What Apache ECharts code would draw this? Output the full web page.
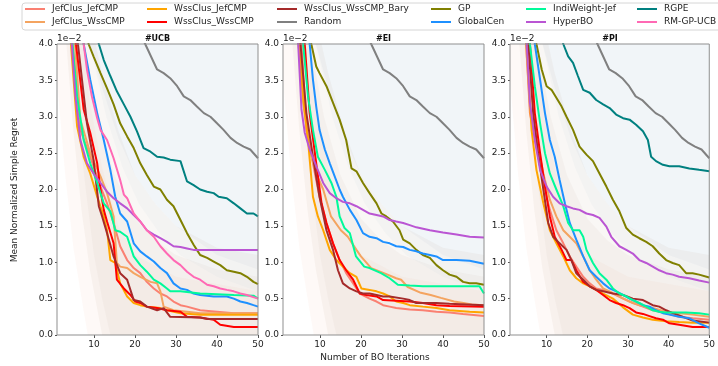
<!DOCTYPE html>
<html><head><meta charset="utf-8">
<script src="https://cdn.jsdelivr.net/npm/echarts@6/dist/echarts.min.js"></script>
<style>html,body{margin:0;padding:0;background:#fff}#c{width:718px;height:366px}</style>
</head><body><div id="c"></div>
<script>
// ---------------- data ----------------
const methods = ['JefClus_JefCMP','JefClus_WssCMP','WssClus_JefCMP','WssClus_WssCMP','WssClus_WssCMP_Bary','Random','GP','GlobalCen','IndiWeight-Jef','HyperBO','RGPE','RM-GP-UCB'];
const colors = ['#fa8072','#f4a460','#ffa500','#ff0000','#a52a2a','#808080','#808000','#1e90ff','#00fa9a','#ba55d3','#008080','#ff69b4'];
const panelTitles = ['#UCB','#EI','#PI'];
const xTicks = [10,20,30,40,50];

const random = [[1,9],[8,6.5],[15,5],[20,4.3],[22.5,4.0],[25.4,3.65],[27,3.6],[28.6,3.53],[30.3,3.42],[31.9,3.28],[33.5,3.23],[35.1,3.14],[36.8,3.05],[38.4,3.0],[40,2.91],[41.6,2.82],[43.3,2.71],[44.9,2.64],[46.5,2.59],[48.1,2.55],[50,2.43]];

// UCB
const ucb_jj = [[1,9],[4.5,4.2],[6.7,2.82],[9.1,2.45],[11.6,2.04],[13.2,1.81],[14.8,1.54],[16.4,1.22],[18.1,1.03],[19.7,0.92],[21.3,0.85],[22.9,0.73],[24.6,0.64],[26.2,0.57],[27.8,0.53],[29.4,0.46],[31.1,0.41],[32.7,0.39],[35.9,0.34],[40,0.32],[44.1,0.30],[50,0.30]];
const ucb_jw = [[1,9],[5,4.3],[6.7,2.96],[9.1,2.50],[11.6,2.18],[13.2,1.95],[14.8,1.63],[15.6,0.99],[16.4,0.94],[18.1,0.92],[19.7,0.85],[21.3,0.80],[23.8,0.73],[25.4,0.71],[26.2,0.60],[27,0.39],[29.4,0.34],[32.7,0.32],[35.9,0.30],[50,0.30]];
const ucb_wj = [[1,9],[4,4.3],[5.9,2.87],[7.5,2.45],[9.1,2.22],[10.8,1.90],[12.4,1.63],[13.2,1.44],[14,1.03],[15.2,0.99],[16.4,0.71],[18.1,0.53],[19.7,0.44],[21.3,0.41],[22.9,0.39],[26.2,0.37],[27.8,0.34],[31.1,0.30],[35.9,0.28],[50,0.28]];
const ucb_ww = [[1,9],[5,4.3],[7.5,3.10],[9.1,2.78],[10.8,2.36],[11.6,2.00],[12.4,1.72],[13.2,1.56],[14.8,1.26],[15.6,0.76],[17.3,0.64],[18.9,0.55],[20.1,0.46],[21.3,0.44],[22.9,0.39],[25.4,0.37],[27.8,0.34],[31.1,0.32],[32.7,0.25],[35.9,0.24],[39.2,0.21],[40.8,0.14],[44.1,0.11],[50,0.11]];
const ucb_bary = [[1,9],[5.5,4.3],[8.3,2.91],[9.9,2.41],[11.2,1.77],[12,1.63],[13.2,1.40],[14.8,1.08],[16.4,0.85],[18.1,0.76],[19.7,0.48],[21.3,0.46],[22.9,0.39],[25.4,0.34],[27,0.37],[28.6,0.25],[35.9,0.24],[37.6,0.22],[50,0.22]];
const ucb_gp = [[1,12],[7,4.6],[8.7,4.0],[9.9,3.83],[11.6,3.6],[13.2,3.39],[14.8,3.17],[16.4,2.91],[18.1,2.73],[19.7,2.57],[21.3,2.36],[22.9,2.2],[24.6,2.04],[26.2,2.0],[27.8,1.86],[29.4,1.77],[31.1,1.58],[32.7,1.40],[34.3,1.24],[35.1,1.17],[35.9,1.10],[37.6,1.06],[39.2,1.01],[40.8,0.96],[42.4,0.89],[44.1,0.87],[45.7,0.85],[47.3,0.80],[48.9,0.73],[50,0.70]];
const ucb_gc = [[1,10],[6,4.8],[7.5,4.0],[9.1,3.51],[10.8,3.05],[12.4,2.68],[14,2.27],[15.2,1.90],[16.4,1.67],[18.1,1.56],[19.7,1.26],[21.3,1.15],[22.9,1.08],[24.6,1.01],[26.2,0.92],[27.8,0.85],[29.4,0.71],[31.1,0.64],[32.7,0.62],[34.3,0.57],[35.9,0.55],[39.2,0.53],[42.4,0.53],[44.1,0.50],[45.7,0.46],[47.3,0.44],[48.9,0.41],[50,0.39]];
const ucb_iw = [[1,9],[4,4.5],[5.9,3.28],[7.5,2.68],[9.1,2.36],[10.8,2.09],[12.4,1.81],[14,1.70],[15.2,1.44],[16.4,1.42],[18.1,1.35],[19.7,1.08],[21.3,0.96],[22.9,0.87],[24.6,0.76],[26.2,0.71],[27.8,0.64],[28.6,0.60],[31.1,0.60],[35.9,0.57],[44.1,0.55],[48.9,0.54],[50,0.50]];
const ucb_hb = [[1,8],[4,4.5],[5.5,3.28],[6.7,2.68],[8.3,2.36],[9.9,2.22],[11.6,2.09],[13.2,1.97],[14.8,1.88],[16.4,1.81],[18.1,1.74],[19.7,1.65],[21.3,1.56],[22.9,1.44],[24.6,1.38],[26.2,1.33],[27.8,1.28],[29.4,1.22],[31.1,1.21],[32.7,1.19],[34.3,1.17],[50,1.17]];
const ucb_rgpe = [[1,14],[9,4.6],[11.2,4.0],[12.4,3.78],[14,3.56],[15.6,3.35],[17.3,3.17],[18.9,3.0],[20.5,2.8],[22.1,2.57],[23.8,2.52],[25.4,2.45],[27,2.44],[28.6,2.41],[31.1,2.39],[32.7,2.11],[34.3,2.06],[35.9,2.0],[37.6,1.97],[39.2,1.95],[40.4,1.9],[42.4,1.88],[44.1,1.81],[45.7,1.74],[47.3,1.67],[48.9,1.67],[50,1.63]];
const ucb_rm = [[1,10],[6,4.8],[7.5,4.0],[8.3,3.65],[9.5,3.28],[10.8,2.98],[11.6,2.82],[13.2,2.68],[14.8,2.43],[16.4,2.13],[17.3,1.93],[18.1,1.88],[19.7,1.67],[21.3,1.56],[22.9,1.44],[24.6,1.35],[26.2,1.22],[27.8,1.12],[29.4,1.03],[31.1,0.96],[32.7,0.87],[34.3,0.80],[35.9,0.76],[37.6,0.69],[39.2,0.67],[40.8,0.64],[42.4,0.62],[44.1,0.60],[45.7,0.57],[47.3,0.55],[50,0.50]];

// EI
const ei_jj = [[1,9],[5,4.5],[6.7,2.82],[8.3,2.36],[9.9,1.90],[11.6,1.54],[13.2,1.26],[14.8,1.03],[16.4,0.85],[18.1,0.71],[19.7,0.57],[22.1,0.50],[23.8,0.46],[25.4,0.41],[27,0.39],[28.6,0.37],[31.9,0.35],[35.1,0.34],[38.4,0.32],[41.6,0.31],[44.9,0.29],[50,0.26]];
const ei_jw = [[1,9],[4.5,4.4],[5.9,3.19],[7.5,2.55],[9.1,2.22],[10.8,2.00],[12.7,1.63],[15.1,1.44],[16.8,1.35],[18.9,1.17],[20,1.08],[22.5,0.92],[25.6,0.85],[28.6,0.78],[29.8,0.76],[31.4,0.66],[34.6,0.58],[37,0.55],[39.5,0.51],[42.7,0.46],[45,0.44],[47,0.42],[50,0.41]];
const ei_wj = [[1,9],[4,4.5],[5.9,3.28],[7.1,2.68],[8.3,1.90],[9.5,1.63],[10.8,1.44],[12.4,1.17],[14,1.03],[15.6,0.94],[17.3,0.85],[18.9,0.80],[20.1,0.64],[22.1,0.62],[23.8,0.60],[25.4,0.57],[27,0.53],[28.6,0.46],[30.3,0.44],[31.9,0.41],[35.1,0.39],[38.4,0.37],[41.6,0.34],[46.5,0.32],[50,0.31]];
const ei_ww = [[1,9],[5,4.6],[6.3,4.0],[7.5,3.05],[9.1,2.36],[10.4,1.81],[11.6,1.54],[13.2,1.26],[14.8,1.03],[16.4,0.89],[18.1,0.76],[19.7,0.57],[21.3,0.55],[23.8,0.53],[25.4,0.48],[28.6,0.47],[31.9,0.46],[35.1,0.44],[38.4,0.41],[41.6,0.40],[50,0.39]];
const ei_bary = [[1,9],[4.5,4.5],[6.7,3.05],[8.3,2.45],[9.9,1.90],[11.6,1.44],[13.2,1.17],[14.4,0.89],[15.6,0.71],[17.3,0.64],[18.9,0.60],[20.5,0.57],[22.1,0.57],[23.8,0.55],[25.4,0.53],[27,0.53],[30.3,0.50],[31.9,0.48],[33.5,0.44],[38.4,0.44],[41.6,0.43],[50,0.41]];
const ei_gp = [[1,12],[6.5,4.6],[7.9,4.0],[9.1,3.69],[9.9,3.60],[11.6,3.42],[13.2,3.19],[14.8,2.96],[16.4,2.68],[17.7,2.29],[18.9,2.25],[20.5,2.09],[22.1,1.95],[23.8,1.81],[25,1.67],[26.2,1.63],[27.8,1.56],[29.4,1.44],[30.3,1.31],[31.9,1.26],[33.5,1.17],[35.1,1.10],[36.8,1.06],[38.4,0.96],[40,0.89],[41.6,0.83],[43.3,0.80],[44.9,0.73],[46.5,0.71],[48.1,0.71],[50,0.69]];
const ei_gc = [[1,10],[6,4.8],[7.5,4.0],[8.3,3.51],[9.1,3.14],[9.9,2.82],[11.2,2.55],[12.4,2.36],[13.6,2.18],[14.8,2.00],[15.6,1.90],[17.3,1.72],[18.9,1.58],[20.5,1.40],[22.1,1.35],[23.8,1.33],[25.4,1.28],[27,1.26],[28.6,1.22],[30.3,1.21],[31.9,1.17],[33.5,1.15],[35.1,1.12],[36.8,1.10],[38.4,1.08],[40,1.03],[43.3,1.03],[46.5,1.02],[50,0.98]];
const ei_iw = [[1,9],[4.5,4.6],[5.9,4.0],[7.1,3.28],[8.3,2.82],[9.5,2.45],[11.2,2.27],[12.8,2.09],[14,1.90],[14.8,1.63],[16,1.47],[17.3,1.40],[18.8,1.08],[20.8,0.94],[22.1,0.92],[24.9,0.85],[27,0.78],[29,0.69],[31.9,0.68],[35.1,0.67],[41.6,0.67],[48.9,0.67],[50,0.57]];
const ei_hb = [[1,8],[3.5,4.6],[4.7,4.0],[5.5,3.10],[6.3,2.78],[7.5,2.55],[9.1,2.32],[10.8,2.09],[12.4,1.95],[14,1.88],[15.6,1.83],[17.3,1.81],[18.9,1.77],[20.5,1.72],[22.1,1.67],[23.8,1.65],[25.4,1.63],[27,1.58],[28.6,1.56],[30.3,1.54],[31.9,1.51],[33.5,1.48],[36.8,1.44],[40,1.41],[43.3,1.38],[46.5,1.35],[50,1.34]];

// PI
const pi_jj = [[1,9],[4.5,4.5],[5.9,3.05],[7.5,2.59],[9.2,2.09],[10.8,1.72],[12.4,1.44],[14.1,1.26],[15.7,1.08],[17.3,0.94],[19,0.80],[20.6,0.71],[22.2,0.64],[23.9,0.62],[26.3,0.57],[28.8,0.50],[31.2,0.44],[33.7,0.39],[36.1,0.34],[39.4,0.30],[42.6,0.25],[45.9,0.23],[50,0.21]];
const pi_jw = [[1,9],[4.5,4.4],[5.9,3.14],[7.5,2.68],[9.2,2.22],[10.8,1.86],[12.4,1.63],[14.1,1.44],[15.7,1.35],[17.3,1.26],[19,1.08],[20.6,0.89],[22.2,0.76],[23.9,0.64],[25.5,0.60],[27.9,0.53],[30.4,0.46],[32.8,0.41],[36.1,0.37],[39.4,0.32],[42.6,0.30],[45.9,0.28],[50,0.25]];
const pi_wj = [[1,9],[4,4.5],[5.1,4.0],[6.3,2.82],[7.5,2.27],[9.2,1.81],[10.8,1.44],[12.4,1.26],[14.1,1.08],[15.7,0.89],[17.3,0.78],[19,0.71],[20.6,0.67],[22.2,0.62],[23.9,0.57],[26.3,0.50],[28.8,0.38],[31.2,0.28],[33.7,0.24],[36.1,0.21],[39.4,0.19],[42.6,0.18],[45.9,0.17],[50,0.17]];
const pi_ww = [[1,9],[4.5,4.6],[5.9,4.0],[7.1,3.05],[8.4,2.50],[9.6,2.04],[10.8,1.63],[12,1.35],[13.7,1.17],[14.9,1.03],[16.1,1.03],[17.3,0.89],[19,0.73],[20.6,0.67],[22.2,0.62],[23.9,0.55],[25.5,0.48],[27.1,0.44],[28.8,0.41],[30.4,0.37],[32,0.31],[33.7,0.29],[35.3,0.26],[36.9,0.23],[38.6,0.21],[40.2,0.16],[42.6,0.14],[45.9,0.11],[50,0.11]];
const pi_bary = [[1,9],[4,4.6],[5.5,4.0],[6.7,3.05],[7.9,2.50],[9.2,2.00],[10.4,1.54],[11.6,1.35],[13.2,1.26],[14.9,1.17],[16.1,1.03],[17.3,0.85],[19,0.76],[20.6,0.67],[22.2,0.62],[23.9,0.60],[26.3,0.57],[28.8,0.55],[31.2,0.50],[33.7,0.48],[36.1,0.41],[37.7,0.39],[39.4,0.34],[41,0.30],[43.5,0.25],[45.9,0.20],[50,0.17]];
const pi_gp = [[1,12],[6,4.6],[7.5,4.0],[8.8,3.65],[10,3.42],[11.2,3.37],[12.4,3.26],[13.7,3.14],[14.9,3.00],[16.5,2.82],[18.1,2.59],[19.8,2.48],[21.4,2.39],[23,2.22],[24.7,2.04],[26.3,1.86],[27.9,1.70],[29.6,1.47],[31.2,1.38],[32.8,1.33],[34.5,1.28],[36.1,1.22],[37.7,1.12],[39.4,1.03],[41,0.99],[42.6,0.96],[44.3,0.85],[45.9,0.85],[47.5,0.83],[50,0.79]];
const pi_gc = [[1,10],[5.5,4.8],[7.1,4.0],[8.4,3.51],[9.6,3.05],[10.8,2.68],[12,2.45],[13.2,2.13],[14.5,1.81],[15.7,1.54],[17.3,1.31],[19,1.08],[20.6,0.89],[22.2,0.80],[23.9,0.71],[25.5,0.64],[27.1,0.60],[28.8,0.55],[30.4,0.50],[32,0.46],[33.7,0.41],[35.3,0.39],[36.9,0.34],[38.6,0.30],[40.2,0.28],[42.6,0.25],[45.1,0.23],[47.5,0.16],[50,0.10]];
const pi_iw = [[1,9],[4.5,4.6],[5.9,4.0],[7.1,3.42],[8.4,2.91],[9.6,2.50],[10.8,2.22],[12.4,2.00],[14.1,1.77],[15.3,1.54],[16.5,1.44],[18.1,1.44],[19,1.35],[19.8,1.17],[21.4,0.99],[23,0.85],[24.7,0.76],[26.3,0.64],[27.9,0.57],[29.6,0.53],[31.2,0.48],[32.8,0.44],[34.5,0.39],[36.1,0.34],[37.7,0.32],[39.4,0.31],[44.3,0.31],[47.5,0.30],[50,0.28]];
const pi_hb = [[1,8],[3.8,4.6],[5.1,4.0],[5.9,3.19],[7.1,2.68],[8.4,2.27],[10,2.04],[11.6,1.90],[13.2,1.81],[14.9,1.77],[16.5,1.74],[18.1,1.72],[19.8,1.67],[21.4,1.65],[23,1.61],[24.7,1.49],[25.9,1.35],[27.9,1.22],[29.6,1.17],[31.2,1.12],[32.8,1.03],[34.5,0.99],[36.1,0.94],[37.7,0.89],[39.4,0.85],[41,0.83],[42.6,0.80],[45.1,0.78],[47.5,0.75],[50,0.72]];
const pi_rgpe = [[1,14],[12,4.6],[14.1,4.0],[15.3,3.83],[16.5,3.74],[17.7,3.56],[19,3.37],[20.6,3.33],[22.2,3.23],[23.9,3.17],[25.5,3.12],[27.1,3.03],[28.8,2.98],[30.4,2.96],[32,2.89],[33.7,2.80],[34.9,2.68],[35.7,2.45],[36.9,2.39],[38.6,2.34],[40.2,2.32],[42.6,2.32],[45.1,2.29],[47.5,2.27],[50,2.25]];

const band_cool_lo_a = [[1,8],[8,4.2],[12,3.4],[16,2.7],[20,2.2],[25,1.8],[30,1.5],[40,1.1],[50,0.9]];
const band_cool_lo_b = [[1,8],[9,4.0],[13,3.0],[17,2.3],[21,1.8],[26,1.4],[31,1.1],[40,0.8],[50,0.6]];
const band_cool_hi = [[1,5],[50,5]];
const band_warm_lo_a = [[1,6],[3,4.2],[5,2.8],[7,1.7],[9,0.9],[11,0.3],[12,0],[50,0]];
const band_warm_lo_b = [[1,7],[4,4.3],[6,3.0],[8,2.0],[10,1.1],[12,0.5],[14,0],[50,0]];
const band_warm_hi_a = [[1,9],[8,4.6],[12,3.6],[16,2.8],[20,2.2],[25,1.8],[30,1.5],[40,1.2],[50,1.1]];
const band_warm_hi_b = [[1,9],[7,4.2],[11,3.0],[15,2.2],[20,1.6],[25,1.3],[30,1.1],[40,0.9],[50,0.8]];
const band_peach_lo = [[1,3.5],[3,2.2],[5,1.2],[7,0.5],[8.5,0],[50,0]];
const band_peach_hi = [[1,9],[6,4.5],[9,3.2],[12,2.3],[16,1.5],[20,1.1],[30,0.8],[40,0.7],[50,0.6]];

const panelData = [
  {'JefClus_JefCMP':ucb_jj,'JefClus_WssCMP':ucb_jw,'WssClus_JefCMP':ucb_wj,'WssClus_WssCMP':ucb_ww,'WssClus_WssCMP_Bary':ucb_bary,'Random':random,'GP':ucb_gp,'GlobalCen':ucb_gc,'IndiWeight-Jef':ucb_iw,'HyperBO':ucb_hb,'RGPE':ucb_rgpe,'RM-GP-UCB':ucb_rm},
  {'JefClus_JefCMP':ei_jj,'JefClus_WssCMP':ei_jw,'WssClus_JefCMP':ei_wj,'WssClus_WssCMP':ei_ww,'WssClus_WssCMP_Bary':ei_bary,'Random':random,'GP':ei_gp,'GlobalCen':ei_gc,'IndiWeight-Jef':ei_iw,'HyperBO':ei_hb},
  {'JefClus_JefCMP':pi_jj,'JefClus_WssCMP':pi_jw,'WssClus_JefCMP':pi_wj,'WssClus_WssCMP':pi_ww,'WssClus_WssCMP_Bary':pi_bary,'Random':random,'GP':pi_gp,'GlobalCen':pi_gc,'IndiWeight-Jef':pi_iw,'HyperBO':pi_hb,'RGPE':pi_rgpe}
];
const bands = [
  {lo:band_cool_lo_a, hi:band_cool_hi, color:'#8fa9c4', opacity:0.07},
  {lo:band_cool_lo_b, hi:band_cool_hi, color:'#8fa9c4', opacity:0.05},
  {lo:band_warm_lo_a, hi:band_warm_hi_a, color:'#bca694', opacity:0.09},
  {lo:band_warm_lo_b, hi:band_warm_hi_b, color:'#bca694', opacity:0.08},
  {lo:band_peach_lo, hi:band_peach_hi, color:'#f2b39a', opacity:0.08}
];

// ---------------- layout ----------------
const FONT = 'DejaVu Sans';
const grids = [{left:57,top:44,width:201,height:291},{left:283,top:44,width:201,height:291},{left:510,top:44,width:200,height:291}];
const legendCols = [25,147,277,431,526,637];

const chart = echarts.init(document.getElementById('c'), null, {renderer:'canvas'});
const option = {
  animation:false,
  backgroundColor:'#fff',
  grid: grids.map(g=>Object.assign({show:true,borderColor:'#8f8f8f',borderWidth:1,backgroundColor:'transparent',z:10},g)),
  xAxis: grids.map((g,i)=>({type:'value',gridIndex:i,min:1,max:50,
    axisLine:{show:false},splitLine:{show:false},
    axisTick:{show:true,length:3,lineStyle:{color:'#555'},customValues:xTicks},
    axisLabel:{customValues:xTicks,fontFamily:FONT,fontSize:9,color:'#222',margin:5}})),
  yAxis: grids.map((g,i)=>({type:'value',gridIndex:i,min:0,max:4,interval:0.5,
    axisLine:{show:false},splitLine:{show:false},
    axisTick:{show:true,length:2,lineStyle:{color:'#555'}},
    axisLabel:{fontFamily:FONT,fontSize:9,color:'#222',margin:4,formatter:v=>v.toFixed(1)}})),
  legend: methods.map((m,k)=>({
    data:[m], left:legendCols[Math.floor(k/2)], top:(k%2===0)?3:16,
    itemWidth:20,itemHeight:2,icon:'rect',selectedMode:false,padding:0,
    textStyle:{fontFamily:FONT,fontSize:9,color:'#222',padding:[0,0,0,2],lineHeight:12}
  })),
  series:[],
  graphic:[
    {type:'rect',z:-1,shape:{x:22,y:3,width:706,height:27,r:3},style:{fill:'#fff',stroke:'#d6d6d6',lineWidth:1}},
    {type:'text',x:15,y:190,rotation:Math.PI/2,style:{text:'Mean Normalized Simple Regret',font:'9px "DejaVu Sans"',fill:'#222',textAlign:'center',textVerticalAlign:'middle'}},
    {type:'text',x:375,y:358,style:{text:'Number of BO Iterations',font:'9px "DejaVu Sans"',fill:'#222',textAlign:'center',textVerticalAlign:'middle'}}
  ]
};
grids.forEach((g,i)=>{
  option.graphic.push({type:'text',x:g.left+g.width/2,y:39,style:{text:panelTitles[i],font:'bold 8px "DejaVu Sans"',fill:'#111',textAlign:'center',textVerticalAlign:'middle'}});
  option.graphic.push({type:'text',x:g.left,y:39,style:{text:'1e\u22122',font:'9px "DejaVu Sans"',fill:'#222',textAlign:'left',textVerticalAlign:'middle'}});
  bands.forEach(b=>{
    option.series.push({type:'custom',xAxisIndex:i,yAxisIndex:i,clip:true,silent:true,z:1,data:[[1,0]],
      renderItem:(params,api)=>{
        const pts = b.hi.map(p=>api.coord(p)).concat(b.lo.slice().reverse().map(p=>api.coord(p)));
        return {type:'polygon',shape:{points:pts},style:{fill:b.color,opacity:b.opacity}};
      }});
  });
  methods.forEach((m,k)=>{
    const d = panelData[i][m];
    if(!d) return;
    option.series.push({name:m,type:'line',xAxisIndex:i,yAxisIndex:i,data:d,showSymbol:false,symbol:'none',clip:true,
      color:colors[k],lineStyle:{width:2,color:colors[k]},z:2+k*0.01});
  });
});
chart.setOption(option);
</script></body></html>
